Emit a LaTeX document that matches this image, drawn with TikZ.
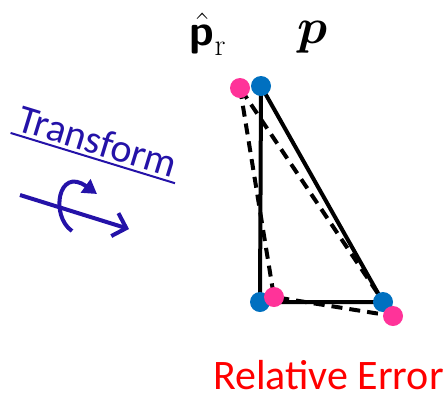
\RequirePackage{fix-cm}
\documentclass[tikz,border=0pt]{standalone}
\usepackage{amsmath}
\usepackage{amssymb}
\usepackage{fontspec}
\newfontfamily\calibri{Carlito}
\usetikzlibrary{arrows.meta}
\definecolor{ptblue}{RGB}{0,112,192}
\definecolor{ptpink}{RGB}{255,51,153}
\definecolor{trblue}{RGB}{36,18,168}

\begin{document}
\begin{tikzpicture}[x=1pt, y=-1pt, line width=4pt]
            \useasboundingbox (0,0) rectangle (444,392);
            % ground truth points
            \coordinate (P1) at (261,86);
            \coordinate (P2) at (260,302);
            \coordinate (P3) at (383,302);
            % estimated points
            \coordinate (Q1) at (240,88);
            \coordinate (Q2) at (274,297);
            \coordinate (Q3) at (393,316);
            
            \draw[line join=round] (P1) -- (P2) -- (P3) -- cycle;
            \draw[dash pattern=on 11pt off 7pt] (Q1) -- (Q2) -- (Q3) -- cycle;
            
            \fill[ptpink] (Q1) circle (10pt);
            \fill[ptblue] (P1) circle (10pt);
            \fill[ptblue] (P2) circle (10pt);
            \fill[ptpink] (Q2) circle (10pt);
            \fill[ptblue] (P3) circle (10pt);
            \fill[ptpink] (Q3) circle (10pt);
            
            \node (phat) [anchor=base, inner sep=0pt] at (208,45) {\fontsize{44}{52}\selectfont $\hat{\text{\sffamily\bfseries p}}_{\mathrm{r}}$};
            \node (p) [anchor=base, inner sep=0pt] at (313,43) {\fontsize{50}{60}\selectfont $\boldsymbol{p}$};
            
            \node (tr) [rotate=-17, text=trblue, inner sep=2pt, font=\calibri\fontsize{40}{46}\selectfont] at (98,141) {Transform};
            \draw[trblue, line width=2pt] (tr.south west) -- (tr.south east);
            
            \coordinate (A0) at (20,195);
            \coordinate (A1) at (129,229);
            \draw[trblue, line width=4pt, -{Straight Barb[length=12pt,width=24pt]}] (A0) -- (A1);
            \coordinate (R0) at (72,231);
            \coordinate (R1) at (97,194);
            \draw[trblue, line width=4pt, -{Triangle[length=14pt,width=16pt]}] (R0) .. controls (50,216) and (58,166) .. (R1);
            
            \node (err) [anchor=base west, text=red, inner sep=0pt, font=\calibri\fontsize{42}{48}\selectfont] at (211,389) {Relative Error};
        \end{tikzpicture}
\end{document}
